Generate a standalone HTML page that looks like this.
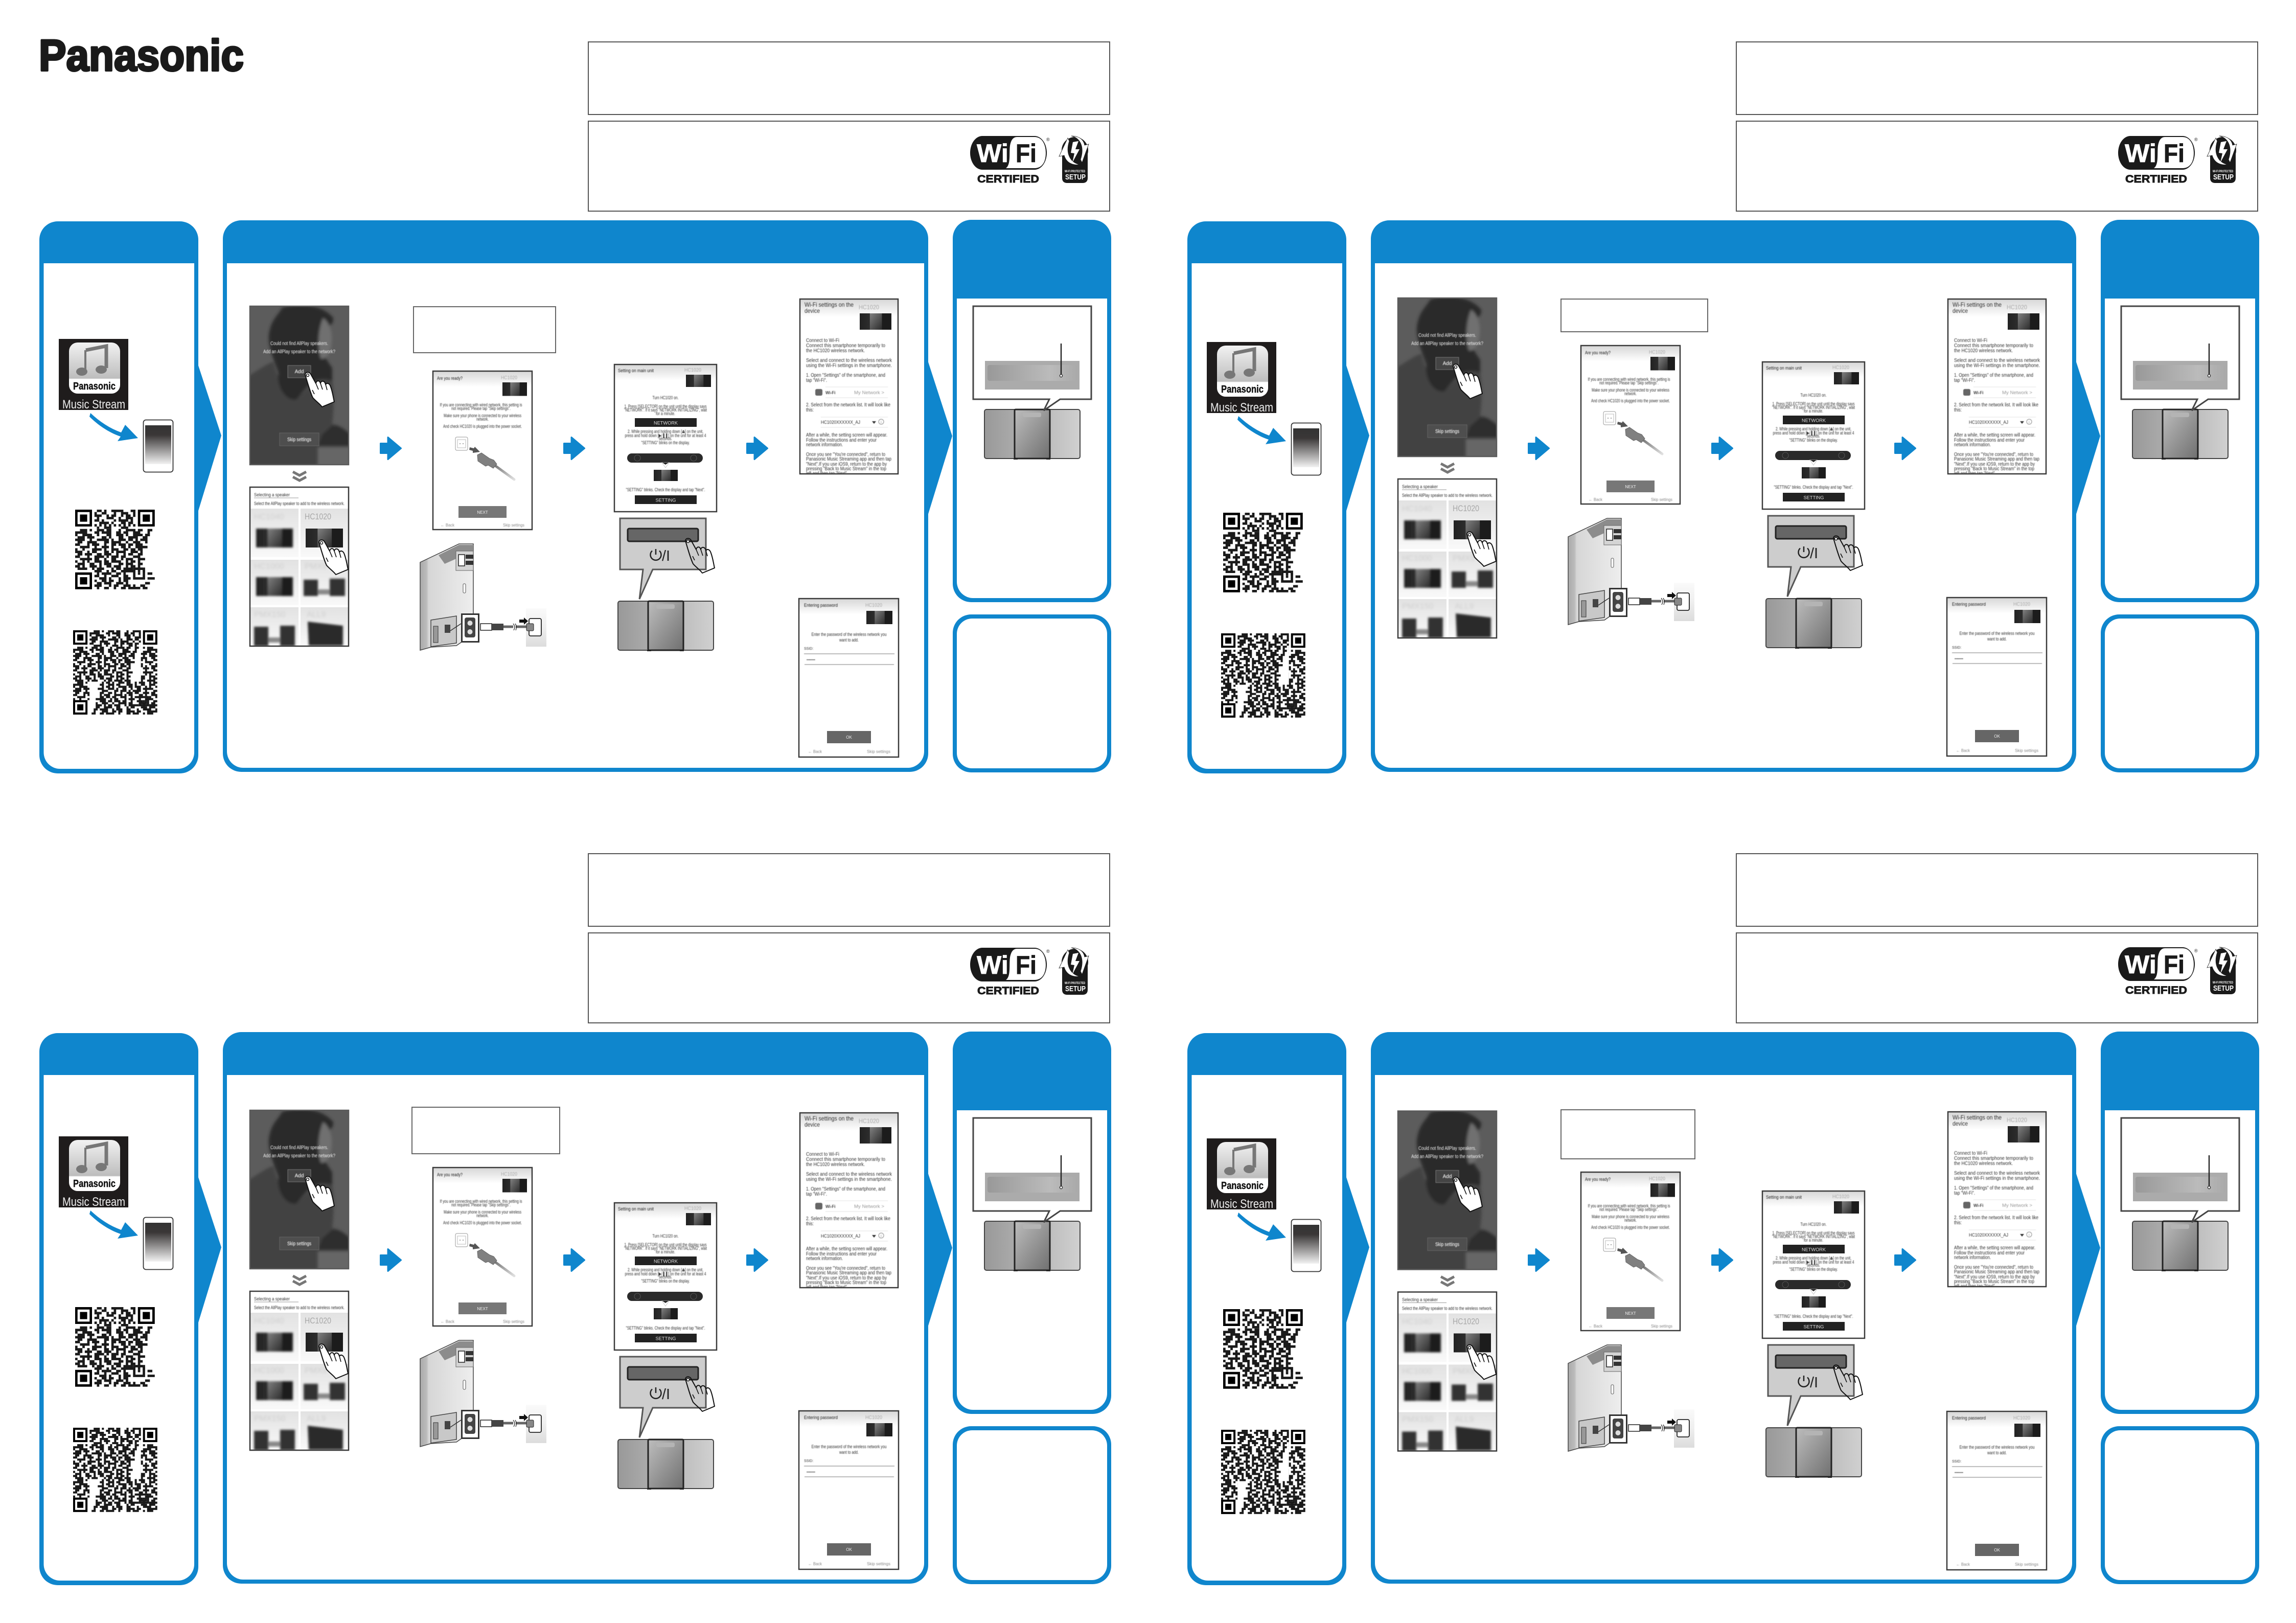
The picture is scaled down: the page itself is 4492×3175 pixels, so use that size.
<!DOCTYPE html>
<html lang="en"><head><meta charset="utf-8"><title>Panasonic Quick Start</title>
<style>
html,body{margin:0;padding:0;background:#fff}
svg{display:block}
text{font-family:"Liberation Sans",sans-serif}
.t{font-size:9.5px;fill:#333}
.g{font-size:10px;fill:#aaa}
.w{font-size:10px;fill:#eee}
.m{text-anchor:middle}
.h{font-size:9.5px;fill:#222}
.l{font-size:10.5px;fill:#333}
</style></head><body>
<svg xmlns="http://www.w3.org/2000/svg" width="4492" height="3175" viewBox="0 0 4492 3175">
<defs>
<linearGradient id="gTop" x1="0" y1="0" x2="0" y2="1"><stop offset="0" stop-color="#d8d8d8"/><stop offset="1" stop-color="#fff"/></linearGradient>
<linearGradient id="gLine" x1="0" y1="0" x2="1" y2="0"><stop offset="0" stop-color="#666"/><stop offset=".55" stop-color="#777"/><stop offset=".56" stop-color="#ccc"/><stop offset="1" stop-color="#ddd"/></linearGradient>
<linearGradient id="gThumb" x1="0" y1="0" x2="1" y2="1"><stop offset="0" stop-color="#808080"/><stop offset="1" stop-color="#2c2c2c"/></linearGradient>
<linearGradient id="gThumbL" x1="0" y1="0" x2="1" y2="0"><stop offset="0" stop-color="#222"/><stop offset="1" stop-color="#444"/></linearGradient>
<linearGradient id="gPhone" x1="0" y1="0" x2="0" y2="1"><stop offset="0" stop-color="#333"/><stop offset=".25" stop-color="#3a3737"/><stop offset="1" stop-color="#f2f2f2"/></linearGradient>
<linearGradient id="gIcon" x1="0" y1="0" x2="0" y2="1"><stop offset="0" stop-color="#f2f2f2"/><stop offset=".7" stop-color="#bdbdbd"/><stop offset=".72" stop-color="#fff"/><stop offset="1" stop-color="#fff"/></linearGradient>
<linearGradient id="gUnit" x1="0" y1="0" x2="1" y2="0"><stop offset="0" stop-color="#999"/><stop offset="1" stop-color="#d0d0d0"/></linearGradient>
<linearGradient id="gPanel" x1="0" y1="0" x2="1" y2="1"><stop offset="0" stop-color="#bdbdbd"/><stop offset="1" stop-color="#707070"/></linearGradient>
<linearGradient id="gDisp" x1="0" y1="0" x2="1" y2="0"><stop offset="0" stop-color="#999"/><stop offset=".7" stop-color="#bbb"/><stop offset="1" stop-color="#aaa"/></linearGradient>
<linearGradient id="gTile" x1="0" y1="0" x2="0" y2="1"><stop offset="0" stop-color="#e2e2e2"/><stop offset="1" stop-color="#f9f9f9"/></linearGradient>
<linearGradient id="gWall" x1="0" y1="0" x2="0" y2="1"><stop offset="0" stop-color="#fafafa"/><stop offset=".5" stop-color="#efefef"/><stop offset="1" stop-color="#dcdcdc"/></linearGradient>
<linearGradient id="gCable" x1="0" y1="0" x2="1" y2="1"><stop offset="0" stop-color="#666"/><stop offset="1" stop-color="#e0e0e0"/></linearGradient>
<linearGradient id="gDev" x1="0" y1="0" x2="1" y2="0"><stop offset="0" stop-color="#aaa"/><stop offset=".12" stop-color="#bbb"/><stop offset=".16" stop-color="#d6d6d6"/><stop offset="1" stop-color="#eee"/></linearGradient>
<filter id="b0" x="-5%" y="-5%" width="110%" height="110%"><feGaussianBlur stdDeviation=".4"/></filter>
<filter id="b2" x="-20%" y="-20%" width="140%" height="140%"><feGaussianBlur stdDeviation="2.2"/></filter>
<filter id="b3" x="-20%" y="-20%" width="140%" height="140%"><feGaussianBlur stdDeviation="3"/></filter>
<clipPath id="cS1"><rect x="489" y="599" width="193" height="310"/></clipPath>
<clipPath id="cS2"><rect x="489" y="953" width="193" height="311"/></clipPath>
<clipPath id="cS5"><rect x="1565" y="585" width="192" height="342"/></clipPath>
<clipPath id="q2a"><rect x="8" y="0" width="25" height="8"/></clipPath>
<clipPath id="q2b"><rect x="33" y="8" width="8" height="17"/></clipPath>
<clipPath id="q2c"><rect x="8" y="25" width="33" height="16"/></clipPath>
<clipPath id="q2d"><rect x="0" y="25" width="8" height="9"/></clipPath>

<g id="th"><rect width="100" height="50" fill="url(#gThumbL)"/><rect x="70" width="30" height="50" fill="#1c1c1c"/><rect x="32" width="38" height="50" fill="url(#gThumb)"/></g>
<g id="hand"><path d="M-4 0C-4-6 5-6 7-1L17 17C18 11 24 10 26 17C27 11 34 11 36 19C39 15 44 17 46 24C50 35 51 45 53 53L29 63C25 57 17 52 11 45C7 37 3 24-4 0Z" stroke="#111" stroke-width="2" stroke-linejoin="round"/><path d="M17 17L22 29M26 17L30 29M36 19L39 30M10 30L14 38" fill="none" stroke="#111" stroke-width="1.600"/><circle cx="1" cy="1" r="2.6" fill="#fff" stroke="#111" stroke-width="1.4"/></g>
<path id="ar" d="M1.5 13.5H16V1.5L41.5 23L16 44.5V32.5H1.5Z" fill="#0f86cd" stroke="#0f86cd" stroke-width="3" stroke-linejoin="round"/>

<g id="unit"><rect x="1" y="1" width="187" height="96" rx="4" fill="url(#gUnit)" stroke="#444" stroke-width="2"/><rect x="60" y="1" width="69" height="96" rx="2" fill="url(#gPanel)" stroke="#222" stroke-width="3"/><rect x="76" y="7" width="36" height="9" rx="3" fill="#b4b4b4"/><rect x="58" y="97" width="8" height="2" fill="#222"/><rect x="122" y="97" width="8" height="2" fill="#222"/></g>

<g id="fin"><path fill-rule="evenodd" d="M0 0h7v7h-7zM1 1v5h5v-5zM2 2h3v3h-3z"/></g>

<path id="qb" fill="none" stroke="#1a1a1a" stroke-width="1.02" d="M2 8.5h3m1 0h1m2 0h3m1 0h2m3 0h1m2 0h4m1 0h2m2 0h2M0 9.5h5m3 0h2m1 0h4m2 0h2m1 0h2m2 0h3m3 0h1M0 10.5h1m2 0h4m2 0h1m3 0h2m2 0h3m1 0h1m2 0h4m1 0h2M1 11.5h3m1 0h3m3 0h2m1 0h1m3 0h2m2 0h4m2 0h2M0 12.5h4m2 0h1m2 0h5m1 0h1m2 0h3m1 0h2m1 0h1m1 0h3M1 13.5h2m2 0h4m3 0h2m1 0h4m2 0h1m2 0h3m2 0h1M0 14.5h2m3 0h1m1 0h3m2 0h1m2 0h2m1 0h3m1 0h2m1 0h3M2 15.5h4m2 0h1m2 0h3m1 0h1m3 0h2m1 0h1m2 0h5M0 16.5h1m2 0h1m3 0h4m1 0h1m2 0h3m2 0h2m1 0h2m1 0h2M0 17.5h3m2 0h1m1 0h2m3 0h2m1 0h1m1 0h4m2 0h3m1 0h1M1 18.5h2m1 0h3m2 0h2m1 0h3m2 0h1m2 0h1m1 0h2m2 0h2M0 19.5h2m3 0h1m2 0h4m1 0h1m1 0h3m1 0h2m3 0h3M2 20.5h5m1 0h2m2 0h1m2 0h2m2 0h1m1 0h3m2 0h3M0 21.5h1m2 0h1m1 0h1m2 0h3m1 0h2m1 0h4m2 0h1m1 0h2m1 0h1M1 22.5h3m2 0h2m2 0h1m1 0h3m3 0h2m1 0h3m2 0h2M0 23.5h2m1 0h1m2 0h3m1 0h1m2 0h2m1 0h3m2 0h1m1 0h2m1 0h1M1 24.5h4m2 0h1m1 0h3m3 0h1m1 0h2m1 0h4m1 0h3"/>
<path id="qt" fill="none" stroke="#1a1a1a" stroke-width="1.02" d="M9 .5h2m1 0h1m2 0h5m3 0h2M8 1.5h1m2 0h2m3 0h1m2 0h3m2 0h1M8 2.5h3m2 0h1m1 0h2m2 0h1m1 0h2m1 0h1M9 3.5h1m3 0h3m2 0h1m2 0h3M8 4.5h2m1 0h1m4 0h1m1 0h4m1 0h1M10 5.5h4m1 0h1m3 0h2m1 0h2M8 6.5h1m1 0h1m1 0h1m1 0h1m1 0h1m1 0h1m1 0h1m1 0h1m1 0h1M9 7.5h1m2 0h3m4 0h3M8 25.5h3m2 0h1m1 0h2m2 0h6m1 0h1m1 0h1M9 26.5h1m1 0h4m2 0h2m1 0h1M30 26.5h2M8 27.5h2m2 0h1m2 0h3m2 0h2M10 28.5h3m1 0h1m3 0h1m1 0h3M30 28.5h3M8 29.5h1m2 0h2m1 0h2m2 0h1m1 0h2M9 30.5h2m1 0h3m2 0h3m1 0h1M29 30.5h2M8 31.5h3m3 0h1m1 0h2m2 0h3m1 0h1m2 0h2M9 32.5h1m2 0h2m2 0h1m2 0h2m1 0h5m1 0h2"/>
<g id="qr1" transform="translate(147 997) scale(4.72)"><use href="#fin"/><use href="#fin" x="26"/><use href="#fin" y="26"/><use href="#qb"/><use href="#qt"/><path fill-rule="evenodd" fill="#1a1a1a" d="M24 24h5v5h-5zM25 25v3h3v-3zM26 26h1v1h-1z"/></g>
<g id="qr2" transform="translate(143 1233) scale(4.02)"><use href="#fin"/><use href="#fin" x="34"/><use href="#fin" y="34"/><use href="#qb"/>
<g clip-path="url(#q2a)"><use href="#qb" transform="translate(8 -8)"/></g>
<g clip-path="url(#q2b)"><use href="#qb" transform="translate(41 0) scale(-1 1)"/></g>
<g clip-path="url(#q2c)"><use href="#qb" transform="translate(41 49) scale(-1 -1)"/></g>
<g clip-path="url(#q2d)"><use href="#qb" transform="translate(0 17)"/></g>
<path fill-rule="evenodd" fill="#1a1a1a" d="M32 32h5v5h-5zM33 33v3h3v-3zM34 34h1v1h-1z"/></g>

<!-- frame shared by every quadrant -->
<g id="frame">
<rect x="1151" y="82" width="1020" height="142" fill="#fff" stroke="#555" stroke-width="2"/>
<rect x="1151" y="237" width="1020" height="176" fill="#fff" stroke="#555" stroke-width="2"/>
<polygon points="385,706 433,852 385,1009" fill="#0f86cd"/>
<polygon points="1814,702 1863,853 1814,1012" fill="#0f86cd"/>
<rect x="77" y="433" width="311" height="1080" rx="36" fill="#0f86cd"/>
<path d="M85.5 515H380V1472a32 32 0 0 1-32 32H117.5a32 32 0 0 1-32-32Z" fill="#fff"/>
<rect x="436" y="431" width="1380" height="1079" rx="36" fill="#0f86cd"/>
<path d="M444 515H1808V1470a32 32 0 0 1-32 32H476a32 32 0 0 1-32-32Z" fill="#fff"/>
<rect x="1864" y="430" width="310" height="748" rx="36" fill="#0f86cd"/>
<path d="M1872 584H2166V1138a32 32 0 0 1-32 32H1904a32 32 0 0 1-32-32Z" fill="#fff"/>
<rect x="1864" y="1202" width="310" height="309" rx="36" fill="#0f86cd"/>
<rect x="1872" y="1210" width="294" height="293" rx="30" fill="#fff"/>
<use href="#ar" x="743" y="854"/><use href="#ar" x="1102" y="854"/><use href="#ar" x="1460" y="854"/>
<!-- right-hand illustration -->
<use href="#unit" x="1925" y="800"/>
<path d="M1904 599H2135V781H2074L2042 803L2053 781H1904Z" fill="#fff" stroke="#444" stroke-width="3"/>
<rect x="1927" y="706" width="185" height="56" fill="#ababab"/>
<rect x="1932" y="714" width="175" height="31" rx="4" fill="url(#gDisp)"/>
<path d="M2076 672V732" stroke="#222" stroke-width="2.4"/><circle cx="2076" cy="735" r="2.6" fill="#eee" stroke="#222" stroke-width="1.2"/>
</g>

<g id="wifi">
<path d="M1922 266H2024A24 33 0 0 1 2024 332H1922A24 33 0 0 1 1922 266Z" fill="#1a1a1a"/>
<path d="M1990 268H2024C2040 268 2046 285 2046 299C2046 318 2038 329 2024 329H1968C1978 322 1974 300 1976 285C1978 274 1982 268 1990 268Z" fill="#fff"/>
<text x="1911" y="317" font-size="50" font-weight="700" fill="#fff" stroke="#fff" stroke-width=".8" textLength="62" lengthAdjust="spacingAndGlyphs">Wi</text>
<text x="1987" y="317" font-size="50" font-weight="700" fill="#1a1a1a" stroke="#1a1a1a" stroke-width=".8" textLength="41" lengthAdjust="spacingAndGlyphs">Fi</text>
<text x="2047" y="276" font-size="9" fill="#222">®</text>
<text x="1912" y="357" font-size="21" font-weight="700" fill="#1a1a1a" stroke="#1a1a1a" stroke-width=".9" textLength="121" lengthAdjust="spacingAndGlyphs">CERTIFIED</text>
<path d="M2078 298H2128V348Q2128 358 2118 358H2088Q2078 358 2078 348Z" fill="#1a1a1a"/>
<circle cx="2103" cy="294" r="26" fill="#1a1a1a"/>
<path d="M2089 270L2072 306L2082 304C2086 318 2098 324 2112 322C2094 318 2084 300 2092 276Z" fill="#fff" stroke="#1a1a1a" stroke-width=".8"/>
<path d="M2117 318L2130 282L2122 284C2120 272 2110 266 2096 266C2114 270 2122 288 2114 312Z" fill="#fff" stroke="#1a1a1a" stroke-width=".8"/>
<path d="M2099 278L2110 276L2104 292L2112 292L2098 318L2102 300L2095 299Z" fill="#fff"/>
<text x="2083" y="337" font-size="6" font-weight="700" fill="#fff" textLength="40" lengthAdjust="spacingAndGlyphs">WI-FI PROTECTED</text>
<text x="2084" y="351" font-size="15" font-weight="700" fill="#fff" textLength="40" lengthAdjust="spacingAndGlyphs">SETUP</text>
</g>

<!-- app icon, phone and QR codes -->
<g id="c0">
<rect x="115" y="663" width="136" height="139" fill="#1f1c1c"/>
<rect x="135" y="670" width="100" height="100" rx="17" fill="url(#gIcon)"/>
<path d="M168 685L208 677V720" fill="none" stroke="#777" stroke-width="7"/><ellipse cx="160" cy="727" rx="11" ry="8" fill="#777"/><ellipse cx="198" cy="723" rx="11" ry="8" fill="#777"/><path d="M167 685V727" stroke="#777" stroke-width="4"/>
<text x="143" y="762" font-size="20" font-weight="700" fill="#111" stroke="#111" stroke-width=".4" textLength="83" lengthAdjust="spacingAndGlyphs">Panasonic</text>
<text x="122" y="799" font-size="24" fill="#eee" textLength="123" lengthAdjust="spacingAndGlyphs">Music Stream</text>
<path d="M177 808C195 825 215 838 237 846L245 831L270 857L230 863L236 854C212 846 190 830 175 815Z" fill="#0f86cd"/>
<rect x="280.500" y="821.500" width="58" height="102" rx="5" fill="#fff" stroke="#333" stroke-width="1.800"/>
<rect x="284" y="832" width="51" height="76" fill="url(#gPhone)"/>
<use href="#qr1"/><use href="#qr2"/>
</g>

<!-- photo + chevrons + speaker selection -->
<g id="c1">
<g clip-path="url(#cS1)">
<rect x="489" y="599" width="193" height="310" fill="#5c5c5c"/>
<g filter="url(#b3)">
<path d="M470 745C505 725 520 712 535 708C545 745 560 780 580 780C600 760 625 735 650 745C655 780 652 810 650 830C665 830 675 840 690 852V875H622V920H470Z" fill="#424242"/>
<path d="M650 832C665 832 675 842 690 853V872H622L630 850Z" fill="#2f2f2f"/>
<rect x="622" y="875" width="66" height="40" fill="#666"/>
<path d="M552 602C580 592 630 594 652 622C654 640 630 640 628 665C628 690 640 705 650 720L650 745C620 735 600 755 580 782C555 785 540 750 545 730C535 700 520 670 528 645C532 625 545 615 552 602Z" fill="#2a2a2a"/>
<path d="M632 622C645 630 650 650 649 665C648 690 640 702 628 702C620 680 622 645 632 622Z" fill="#707070"/>
</g>
<g filter="url(#b0)">
<text class="w m" x="585.500" y="675" textLength="113" lengthAdjust="spacingAndGlyphs">Could not find AllPlay speakers.</text>
<text class="w m" x="585.500" y="691" textLength="141" lengthAdjust="spacingAndGlyphs">Add an AllPlay speaker to the network?</text>
<rect x="563" y="715" width="45" height="24" fill="#555" fill-opacity=".6" stroke="#777"/>
<text class="w m" x="585.500" y="730">Add</text>
<rect x="547" y="847" width="77" height="25" fill="#555" fill-opacity=".6" stroke="#666"/>
<text class="w m" x="585.500" y="863" textLength="47" lengthAdjust="spacingAndGlyphs">Skip settings</text>
</g>
</g>
<rect x="489" y="599" width="193" height="310" fill="none" stroke="#5a5a5a" stroke-width="2.500"/>
<use href="#hand" x="601" y="733" fill="#fff"/>
<path d="M573 923L586 930L599 923M573 933L586 940L599 933" fill="none" stroke="#777" stroke-width="5"/>
<g clip-path="url(#cS2)">
<rect x="489" y="953" width="193" height="311" fill="#fff"/>
<g filter="url(#b0)">
<text class="t" x="497" y="971" textLength="70" lengthAdjust="spacingAndGlyphs">Selecting a speaker</text>
<text class="t" x="497" y="988" textLength="177" lengthAdjust="spacingAndGlyphs">Select the AllPlay speaker to add to the wireless network.</text>
</g>
<path d="M497 974H584" stroke="#999"/>
<rect x="489" y="995" width="95" height="95" fill="url(#gTile)"/><rect x="588" y="995" width="94" height="95" fill="url(#gTile)"/>
<rect x="489" y="1095" width="95" height="89" fill="url(#gTile)"/><rect x="588" y="1095" width="94" height="89" fill="url(#gTile)"/>
<rect x="489" y="1188" width="95" height="76" fill="url(#gTile)"/><rect x="588" y="1188" width="94" height="76" fill="url(#gTile)"/>
<g filter="url(#b2)">
<text x="497" y="1016" font-size="16" fill="#cfcfcf">HC1040</text>
<text x="497" y="1113" font-size="16" fill="#cfcfcf">HC1000</text>
<text x="596" y="1113" font-size="16" fill="#cfcfcf">PMX9</text>
<text x="497" y="1207" font-size="16" fill="#cfcfcf">PMX150</text>
<text x="600" y="1207" font-size="16" fill="#cfcfcf">ALL9</text>
<use href="#th" transform="translate(501 1034) scale(.72 .74)"/>
<use href="#th" transform="translate(501 1129) scale(.72 .74)"/>
<rect x="594" y="1134" width="28" height="32" fill="#333"/><rect x="645" y="1132" width="30" height="34" fill="#333"/><rect x="622" y="1153" width="23" height="10" fill="#888"/>
<rect x="497" y="1226" width="28" height="38" fill="#333"/><rect x="548" y="1224" width="29" height="40" fill="#333"/><rect x="525" y="1247" width="23" height="10" fill="#888"/>
<path d="M602 1216L671 1224V1263H604Z" fill="#2a2a2a"/>
</g>
<text x="596" y="1016" font-size="17" fill="#a8a8a8" textLength="52" lengthAdjust="spacingAndGlyphs">HC1020</text>
<use href="#th" transform="translate(598 1034) scale(.73 .74)"/>
</g>
<rect x="489" y="953" width="193" height="311" fill="none" stroke="#3a3a3a" stroke-width="2.500"/>
<use href="#hand" x="628" y="1061" fill="#fff"/>
</g>

<!-- "are you ready" + rear panel illustration -->
<g id="c3">
<rect x="847" y="726" width="194" height="310" fill="#fff"/>
<rect x="848" y="727" width="192" height="30" fill="url(#gTop)"/>
<g filter="url(#b0)">
<text class="h" x="855" y="743" textLength="50" lengthAdjust="spacingAndGlyphs">Are you ready?</text>
<path d="M855 745.500H937" stroke="url(#gLine)" stroke-width="1.200"/>
<text class="g" x="980" y="742" textLength="32" lengthAdjust="spacingAndGlyphs">HC1020</text>
<text class="t m" x="941" y="795" textLength="161" lengthAdjust="spacingAndGlyphs">If you are connecting with wired network, this setting is</text>
<text class="t m" x="941" y="802" textLength="116" lengthAdjust="spacingAndGlyphs">not required. Please tap "Skip settings".</text>
<text class="t m" x="944" y="816" textLength="152" lengthAdjust="spacingAndGlyphs">Make sure your phone is connected to your wireless</text>
<text class="t m" x="944" y="823" textLength="24" lengthAdjust="spacingAndGlyphs">network.</text>
<text class="t m" x="944" y="837" textLength="154" lengthAdjust="spacingAndGlyphs">And check HC1020 is plugged into the power socket.</text>
<text x="862" y="1030" font-size="8" fill="#888" textLength="27" lengthAdjust="spacingAndGlyphs">← Back</text>
<text x="984" y="1030" font-size="8" fill="#888" textLength="42" lengthAdjust="spacingAndGlyphs">Skip settings</text>
</g>
<use href="#th" transform="translate(983 748) scale(.48 .53)"/>
<rect x="891" y="855" width="24" height="26" rx="3" fill="#fff" stroke="#999"/><rect x="895" y="860" width="16" height="16" fill="none" stroke="#bbb"/>
<circle cx="900" cy="868" r="1" fill="#888"/><circle cx="906" cy="868" r="1" fill="#888"/>
<path d="M919 875L927 877L929 874L939 884L925 886L925 882L918 880Z" fill="#555"/>
<path d="M962 906L1006 938" stroke="url(#gCable)" stroke-width="5" stroke-linecap="round"/>
<path d="M934 890L942 886L958 897L966 900L972 908L965 916L955 910L950 912L935 902Z" fill="#808080" stroke="#666"/>
<rect x="897" y="990" width="94" height="23" fill="#777"/>
<text class="w m" x="944" y="1005" style="font-size:8px">NEXT</text>
<rect x="847" y="726" width="194" height="310" fill="none" stroke="#3a3a3a" stroke-width="2.500"/>
<!-- rear illustration -->
<path d="M822 1100L898 1064H926V1240L893 1263L843 1266L822 1272Z" fill="url(#gDev)" stroke="#444" stroke-width="1.500"/>
<path d="M858 1086L898 1066H926V1078L870 1103Z" fill="#8c8c8c"/>
<rect x="892" y="1078" width="34" height="38" fill="#d4d4d4" stroke="#666"/>
<rect x="897" y="1085" width="12" height="22" fill="#fff" stroke="#222" stroke-width="1.500"/>
<rect x="911" y="1085" width="15" height="8" fill="#333"/><rect x="911" y="1097" width="15" height="8" fill="#333"/>
<rect x="906" y="1142" width="5" height="18" rx="2" fill="#fff" stroke="#555"/>
<path d="M843 1213L893 1205V1258L843 1265Z" fill="#c8c8c8" stroke="#444" stroke-width="1.500"/>
<rect x="848" y="1225" width="9" height="32" fill="#999" stroke="#333"/>
<rect x="870" y="1222" width="11" height="16" fill="#444"/>
<path d="M881 1234L902 1220" stroke="#333" stroke-width="1.500"/>
<rect x="903.500" y="1201.500" width="33" height="54" fill="#fff" stroke="#333" stroke-width="3"/>
<rect x="909" y="1208" width="21" height="39" rx="4" fill="#444"/><circle cx="919.500" cy="1219" r="5" fill="#ddd"/><circle cx="919.500" cy="1236" r="5" fill="#ddd"/>
<rect x="1029" y="1190" width="40" height="75" fill="url(#gWall)"/>
<rect x="1035" y="1210" width="24" height="34" rx="3" fill="#fff" stroke="#222" stroke-width="1.800"/>
<path d="M940 1220H962V1233H940Z" fill="#fff" stroke="#222" stroke-width="1.500"/>
<rect x="962" y="1220" width="23" height="13" fill="#444"/>
<path d="M985 1226H1004M1009 1226H1032" stroke="#666" stroke-width="5"/>
<path d="M1004 1220Q1009 1226 1005 1233M1008 1220Q1012 1226 1009 1233" fill="none" stroke="#222" stroke-width="1.200"/>
<rect x="1030" y="1220" width="14" height="14" rx="2" fill="#888" stroke="#222"/>
<path d="M1016 1212H1025V1208L1033 1215L1025 1222V1218H1016Z" fill="#111"/>
</g>

<!-- "setting on main unit", callout, unit -->
<g id="c4">
<rect x="1202" y="713" width="200" height="288" fill="#fff"/>
<rect x="1203" y="714" width="198" height="30" fill="url(#gTop)"/>
<g filter="url(#b0)">
<text class="h" x="1209" y="728" textLength="70" lengthAdjust="spacingAndGlyphs">Setting on main unit</text>
<path d="M1209 730.500H1295" stroke="url(#gLine)" stroke-width="1.200"/>
<text class="g" x="1339" y="727" textLength="33" lengthAdjust="spacingAndGlyphs">HC1020</text>
<text class="t m" x="1302" y="781" textLength="51" lengthAdjust="spacingAndGlyphs">Turn HC1020 on.</text>
<text class="t m" x="1302" y="798" textLength="161" lengthAdjust="spacingAndGlyphs">1. Press [SELECTOR] on the unit until the display says</text>
<text class="t m" x="1302" y="805" textLength="162" lengthAdjust="spacingAndGlyphs">"NETWORK". If it says "NETWORK INITIALIZING", wait</text>
<text class="t m" x="1302" y="812" textLength="38" lengthAdjust="spacingAndGlyphs">for a minute.</text>
<text class="t m" x="1302" y="847" textLength="148" lengthAdjust="spacingAndGlyphs">2. While pressing and holding down [⏏] on the unit,</text>
<text class="t m" x="1302" y="855" textLength="159" lengthAdjust="spacingAndGlyphs">press and hold down [▶/❚❚] on the unit for at least 4</text>
<text class="t m" x="1302" y="861" textLength="26" lengthAdjust="spacingAndGlyphs">seconds.</text>
<text class="t m" x="1302" y="869" textLength="95" lengthAdjust="spacingAndGlyphs">"SETTING" blinks on the display.</text>
<text class="t m" x="1302" y="961" textLength="155" lengthAdjust="spacingAndGlyphs">"SETTING" blinks. Check the display and tap "Next".</text>
</g>
<use href="#th" transform="translate(1342 733) scale(.49 .48)"/>
<rect x="1242" y="818" width="121" height="17" fill="#222"/>
<text x="1302.500" y="830.500" class="m" font-size="9" fill="#ddd" textLength="47" lengthAdjust="spacingAndGlyphs">NETWORK</text>
<rect x="1227" y="887" width="148" height="18" rx="9" fill="#2a2a2a"/><circle cx="1247" cy="896" r="6" fill="none" stroke="#555"/><circle cx="1357" cy="896" r="6" fill="none" stroke="#555"/>
<path d="M1295 905H1309L1302 915Z" fill="#fff" stroke="#ccc"/><path d="M1296 905H1308L1302 909Z" fill="#222"/>
<use href="#th" transform="translate(1279 919) scale(.47 .44)"/>
<rect x="1242" y="969" width="121" height="17" fill="#222"/>
<text x="1302.500" y="981.500" class="m" font-size="9" fill="#ddd" textLength="40" lengthAdjust="spacingAndGlyphs">SETTING</text>
<rect x="1202" y="713" width="200" height="288" fill="none" stroke="#3a3a3a" stroke-width="2.500"/>
<use href="#unit" x="1208" y="1175"/>
<path d="M1213 1014H1381V1114H1277L1251 1172L1258 1114H1213Z" fill="#cdcdcd" stroke="#555" stroke-width="3"/>
<rect x="1228" y="1034" width="138" height="25" rx="3" fill="#666" stroke="#222" stroke-width="3"/>
<path d="M1283 1074V1085M1276 1077.500A10.500 10.500 0 1 0 1290 1077.500" fill="none" stroke="#222" stroke-width="2.500"/>
<text x="1295" y="1097" font-size="29" fill="#222">/I</text>
<use href="#hand" x="1345" y="1058" fill="none"/>
</g>

<!-- Wi-Fi settings screen -->
<g id="c5">
<rect x="1565" y="585" width="192" height="342" fill="#fff"/>
<rect x="1566" y="586" width="190" height="34" fill="url(#gTop)"/>
<g clip-path="url(#cS5)"><g filter="url(#b0)">
<text x="1574" y="600" font-size="12" fill="#333" textLength="96" lengthAdjust="spacingAndGlyphs">Wi-Fi settings on the</text>
<text x="1574" y="612" font-size="12" fill="#333" textLength="30" lengthAdjust="spacingAndGlyphs">device</text>
<path d="M1574 619H1670" stroke="url(#gLine)" stroke-width="2"/>
<text x="1680" y="605" font-size="12" fill="#aaa" textLength="40" lengthAdjust="spacingAndGlyphs">HC1020</text>
<text class="l" x="1577" y="669" textLength="65" lengthAdjust="spacingAndGlyphs">Connect to Wi-Fi</text>
<text class="l" x="1577" y="679" textLength="155" lengthAdjust="spacingAndGlyphs">Connect this smartphone temporarily to</text>
<text class="l" x="1577" y="689" textLength="115" lengthAdjust="spacingAndGlyphs">the HC1020 wireless network.</text>
<text class="l" x="1577" y="708" textLength="168" lengthAdjust="spacingAndGlyphs">Select and connect to the wireless network</text>
<text class="l" x="1577" y="718" textLength="168" lengthAdjust="spacingAndGlyphs">using the Wi-Fi settings in the smartphone.</text>
<text class="l" x="1577" y="737" textLength="155" lengthAdjust="spacingAndGlyphs">1. Open "Settings" of the smartphone, and</text>
<text class="l" x="1577" y="747" textLength="41" lengthAdjust="spacingAndGlyphs">tap "Wi-Fi".</text>
<path d="M1615 757H1737M1615 778H1737M1606 816H1737M1606 836H1737" stroke="#e2e2e2"/>
<rect x="1595" y="761" width="14" height="13" rx="3" fill="#666"/>
<text x="1615" y="771" font-size="8" font-weight="700" fill="#444">Wi-Fi</text>
<text x="1671" y="771" font-size="9" fill="#999" textLength="59" lengthAdjust="spacingAndGlyphs">My Network  &gt;</text>
<text class="l" x="1577" y="795" textLength="165" lengthAdjust="spacingAndGlyphs">2. Select from the network list. It will look like</text>
<text class="l" x="1577" y="805" textLength="15" lengthAdjust="spacingAndGlyphs">this:</text>
<text x="1606" y="829" font-size="9" fill="#333" textLength="77" lengthAdjust="spacingAndGlyphs">HC1020XXXXXX_AJ</text>
<path d="M1706 824H1714L1710 829Z" fill="#333"/>
<circle cx="1724" cy="825" r="5" fill="none" stroke="#888"/><text x="1723" y="828" font-size="7" fill="#888">i</text>
<text class="l" x="1577" y="854" textLength="159" lengthAdjust="spacingAndGlyphs">After a while, the setting screen will appear.</text>
<text class="l" x="1577" y="864" textLength="138" lengthAdjust="spacingAndGlyphs">Follow the instructions and enter your</text>
<text class="l" x="1577" y="873" textLength="72" lengthAdjust="spacingAndGlyphs">network information.</text>
<text class="l" x="1577" y="892" textLength="155" lengthAdjust="spacingAndGlyphs">Once you see "You're connected", return to</text>
<text class="l" x="1577" y="901" textLength="167" lengthAdjust="spacingAndGlyphs">Panasonic  Music Streaming app and then tap</text>
<text class="l" x="1577" y="911" textLength="158" lengthAdjust="spacingAndGlyphs">"Next".If you use iOS9, return to the app by</text>
<text class="l" x="1577" y="920" textLength="157" lengthAdjust="spacingAndGlyphs">pressing "Back to Music Stream" in the top</text>
<text class="l" x="1577" y="929" textLength="82" lengthAdjust="spacingAndGlyphs">left and then tap "Next".</text>
</g></g>
<use href="#th" transform="translate(1682 613) scale(.62 .64)"/>
<rect x="1565" y="585" width="192" height="342" fill="none" stroke="#3a3a3a" stroke-width="2.500"/>
</g>

<!-- password screen -->
<g id="c6">
<rect x="1563" y="1171" width="195" height="310" fill="#fff"/>
<rect x="1564" y="1172" width="193" height="30" fill="url(#gTop)"/>
<g filter="url(#b0)">
<text class="h" x="1573" y="1187" textLength="66" lengthAdjust="spacingAndGlyphs">Entering password</text>
<path d="M1573 1191.500H1661" stroke="url(#gLine)" stroke-width="1.200"/>
<text class="g" x="1693" y="1187" textLength="33" lengthAdjust="spacingAndGlyphs">HC1020</text>
<text class="t m" x="1661" y="1244" textLength="147" lengthAdjust="spacingAndGlyphs">Enter the password of the wireless network you</text>
<text class="t m" x="1661" y="1255" textLength="38" lengthAdjust="spacingAndGlyphs">want to add.</text>
<text class="t" x="1573" y="1271" style="font-size:7px">SSID:</text>
<path d="M1573 1279H1750M1574 1300H1749" stroke="#777"/>
<text class="t" x="1578" y="1293" style="font-size:6px">••••••••</text>
<text x="1581" y="1473" font-size="8" fill="#888" textLength="27" lengthAdjust="spacingAndGlyphs">← Back</text>
<text x="1696" y="1473" font-size="8" fill="#888" textLength="46" lengthAdjust="spacingAndGlyphs">Skip settings</text>
</g>
<use href="#th" transform="translate(1695 1195) scale(.51 .52)"/>
<rect x="1618" y="1430" width="86" height="24" fill="#666"/>
<text class="w m" x="1661" y="1445" style="font-size:8px">OK</text>
<rect x="1563" y="1171" width="195" height="310" fill="none" stroke="#3a3a3a" stroke-width="2.500"/>
</g>
</defs>

<rect width="4492" height="3175" fill="#fff"/>
<text x="76" y="138" font-size="86" font-weight="700" fill="#1a1a1a" stroke="#1a1a1a" stroke-width="4" stroke-linejoin="round" textLength="401" lengthAdjust="spacingAndGlyphs">Panasonic</text>

<!-- Q1 -->
<g>
<use href="#frame"/><use href="#wifi"/>
<use href="#c0"/><use href="#c1"/><use href="#c3"/><use href="#c4"/><use href="#c5"/><use href="#c6"/>
<rect x="809" y="600" width="278" height="90" fill="#fff" stroke="#666" stroke-width="2"/>
</g>
<!-- Q2 -->
<g transform="translate(2246 0)">
<use href="#frame"/><use href="#wifi"/>
<use href="#c0" y="6"/><use href="#c1" y="-16"/><use href="#c3" y="-50"/><use href="#c4" y="-5"/><use href="#c5"/><use href="#c6" y="-2"/>
<rect x="808" y="585" width="287" height="64" fill="#fff" stroke="#666" stroke-width="2"/>
</g>
<!-- Q3 -->
<g transform="translate(0 1588)">
<use href="#frame"/><use href="#wifi"/>
<use href="#c0" y="-28"/><use href="#c1" y="-15"/><use href="#c3" y="-30"/><use href="#c4" y="52"/><use href="#c5" y="4"/><use href="#c6" y="1"/>
<rect x="806" y="578" width="289" height="91" fill="#fff" stroke="#666" stroke-width="2"/>
</g>
<!-- Q4 -->
<g transform="translate(2246 1588)">
<use href="#frame"/><use href="#wifi" y="-1"/>
<use href="#c0" y="-24"/><use href="#c1" y="-13.500"/><use href="#c3" y="-21"/><use href="#c4" y="29"/><use href="#c5" y="2"/><use href="#c6" y="2"/>
<rect x="808" y="583" width="262" height="96" fill="#fff" stroke="#666" stroke-width="2"/>
</g>
</svg>
</body></html>
